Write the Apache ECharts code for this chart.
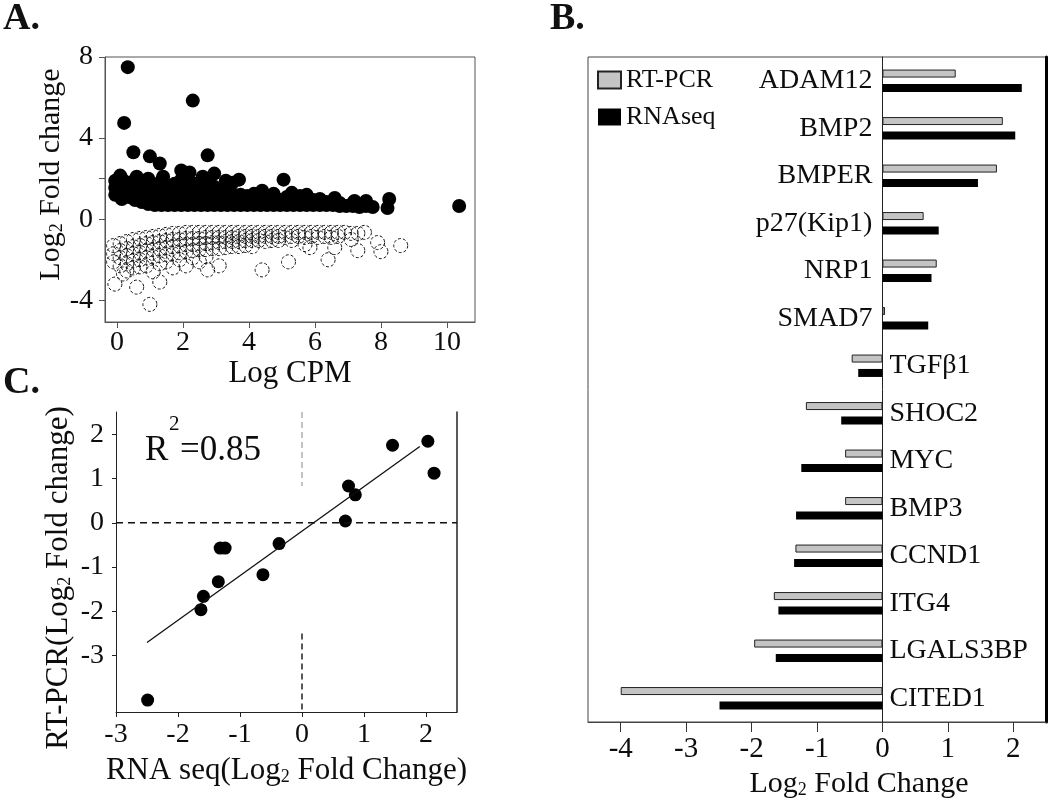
<!DOCTYPE html>
<html><head><meta charset="utf-8">
<script src="https://cdn.jsdelivr.net/npm/echarts@6/dist/echarts.min.js"></script>
<style>html,body{margin:0;padding:0;background:#fff}#c{width:1050px;height:800px}</style>
</head><body><div id="c"></div>
<script>
// ---------- Panel B / C data ----------
const genes = ['ADAM12','BMP2','BMPER','p27(Kip1)','NRP1','SMAD7','TGFβ1','SHOC2','MYC','BMP3','CCND1','ITG4','LGALS3BP','CITED1'];
const rtpcr  = [1.12, 1.84, 1.75, 0.63, 0.83, 0.04, -0.47, -1.17, -0.57, -0.57, -1.33, -1.66, -1.96, -4.00];
const rnaseq = [2.13, 2.03, 1.46, 0.86, 0.75, 0.70, -0.37, -0.63, -1.24, -1.32, -1.35, -1.59, -1.63, -2.49];

// ---------- Panel A data (logCPM, log2FC) ----------
const upPoints = [
 [-0.05,1.2],[-0.05,1.55],[-0.05,1.9],
 [0.15,1.0],[0.15,1.35],[0.15,1.7],[0.15,2.0],
 [0.35,1.1],[0.35,1.45],[0.35,1.8],
 [0.55,0.95],[0.55,1.3],[0.55,1.65],[0.55,1.95],
 [0.75,0.85],[0.75,1.15],[0.75,1.5],[0.75,1.85],
 [0.95,0.75],[0.95,1.05],[0.95,1.4],[0.95,1.75],[0.95,2.0],
 [1.15,0.7],[1.15,1.0],[1.15,1.35],[1.15,1.7],
 [1.35,0.7],[1.35,1.0],[1.35,1.3],[1.35,1.6],[1.35,1.9],
 [1.55,0.7],[1.55,1.0],[1.55,1.3],[1.55,1.65],
 [1.75,0.7],[1.75,1.05],[1.75,1.4],[1.75,1.75],
 [1.95,0.7],[1.95,1.0],[1.95,1.3],[1.95,1.6],[1.95,1.95],
 [2.15,0.7],[2.15,1.0],[2.15,1.35],[2.15,1.7],
 [2.35,0.7],[2.35,1.05],[2.35,1.4],[2.35,1.75],
 [2.55,0.7],[2.55,1.0],[2.55,1.3],[2.55,1.6],
 [2.75,0.7],[2.75,1.0],[2.75,1.35],[2.75,1.7],
 [2.95,0.7],[2.95,1.0],[2.95,1.3],[2.95,1.6],
 [3.15,0.7],[3.15,1.0],[3.15,1.35],
 [3.35,0.7],[3.35,1.0],[3.35,1.3],
 [3.55,0.7],[3.55,0.95],[3.55,1.2],
 [3.75,0.7],[3.75,0.95],[3.75,1.2],
 [3.95,0.7],[3.95,0.95],[3.95,1.15],
 [4.15,0.7],[4.15,0.95],[4.15,1.25],
 [4.35,0.7],[4.35,0.95],
 [4.55,0.7],[4.55,0.95],[4.55,1.15],
 [4.75,0.7],[4.75,0.95],[4.75,1.25],
 [4.95,0.7],[4.95,0.95],
 [5.15,0.7],[5.15,0.95],[5.15,1.1],
 [5.35,0.7],[5.35,0.95],
 [5.55,0.7],[5.55,0.95],[5.55,1.15],
 [5.75,0.7],[5.75,0.95],[5.75,1.2],
 [5.95,0.7],[5.95,0.95],
 [6.15,0.7],[6.15,0.9],[6.15,1.0],
 [6.35,0.7],[6.35,0.85],
 [6.55,0.7],[6.55,0.85],
 [6.75,0.65],[6.75,0.8],
 [6.95,0.65],
 [7.15,0.65],[7.15,0.8],
 [7.35,0.6],
 [7.55,0.65],[7.55,0.9],
 [7.75,0.6],
 [8.2,0.55],[8.25,1.0],
 [0.33,7.5],[2.3,5.85],[0.22,4.75],[0.5,3.3],[1.0,3.1],[1.3,2.75],[2.75,3.15],[1.95,2.4],[2.2,2.3],[2.95,2.25],
 [3.5,1.8],[3.7,1.95],[5.05,1.95],[10.37,0.65],[0.1,2.15],[0.6,2.1],[1.4,2.1],[2.6,2.1],[3.3,1.9],[4.4,1.4],
 [5.3,1.3],[6.6,1.05],[7.2,0.9]
];
const downPoints = [
 [-0.1,-1.3],[-0.1,-1.7],[-0.1,-2.1],
 [0.1,-1.2],[0.1,-1.55],[0.1,-1.9],[0.1,-2.3],
 [0.3,-1.1],[0.3,-1.45],[0.3,-1.8],[0.3,-2.2],[0.3,-2.55],
 [0.5,-1.0],[0.5,-1.35],[0.5,-1.7],[0.5,-2.05],[0.5,-2.4],
 [0.7,-0.95],[0.7,-1.3],[0.7,-1.65],[0.7,-2.0],[0.7,-2.35],
 [0.9,-0.9],[0.9,-1.2],[0.9,-1.55],[0.9,-1.9],[0.9,-2.3],
 [1.1,-0.85],[1.1,-1.15],[1.1,-1.5],[1.1,-1.85],[1.1,-2.6],
 [1.3,-0.8],[1.3,-1.1],[1.3,-1.45],[1.3,-1.8],[1.3,-2.2],
 [1.5,-0.75],[1.5,-1.05],[1.5,-1.4],[1.5,-1.75],[1.5,-2.1],
 [1.7,-0.7],[1.7,-1.0],[1.7,-1.35],[1.7,-1.7],[1.7,-2.4],
 [1.9,-0.7],[1.9,-1.0],[1.9,-1.3],[1.9,-1.65],[1.9,-2.0],
 [2.1,-0.65],[2.1,-0.95],[2.1,-1.25],[2.1,-1.6],[2.1,-2.3],
 [2.3,-0.65],[2.3,-0.95],[2.3,-1.25],[2.3,-1.55],[2.3,-1.9],
 [2.5,-0.65],[2.5,-0.95],[2.5,-1.2],[2.5,-1.5],[2.5,-2.1],
 [2.7,-0.65],[2.7,-0.9],[2.7,-1.2],[2.7,-1.5],[2.7,-1.85],
 [2.9,-0.65],[2.9,-0.9],[2.9,-1.15],[2.9,-1.45],
 [3.1,-0.65],[3.1,-0.9],[3.1,-1.15],[3.1,-1.45],[3.1,-2.3],
 [3.3,-0.65],[3.3,-0.9],[3.3,-1.1],[3.3,-1.4],
 [3.5,-0.65],[3.5,-0.9],[3.5,-1.1],[3.5,-1.35],
 [3.7,-0.65],[3.7,-0.85],[3.7,-1.1],[3.7,-1.35],
 [3.9,-0.65],[3.9,-0.85],[3.9,-1.05],[3.9,-1.3],
 [4.1,-0.65],[4.1,-0.85],[4.1,-1.05],[4.1,-1.35],
 [4.3,-0.65],[4.3,-0.85],[4.3,-1.05],
 [4.5,-0.65],[4.5,-0.85],[4.5,-1.1],
 [4.7,-0.65],[4.7,-0.85],[4.7,-1.05],
 [4.9,-0.65],[4.9,-0.85],[4.9,-1.05],
 [5.1,-0.65],[5.1,-0.9],
 [5.3,-0.65],[5.3,-0.85],[5.3,-1.05],
 [5.5,-0.65],[5.5,-0.85],
 [5.7,-0.65],[5.7,-0.9],[5.7,-1.25],
 [5.9,-0.65],[5.9,-0.85],
 [6.1,-0.65],[6.1,-0.9],
 [6.3,-0.65],[6.3,-0.85],
 [6.5,-0.65],[6.5,-0.9],
 [6.7,-0.65],[6.7,-0.85],
 [6.9,-0.65],
 [7.1,-0.7],[7.1,-1.0],
 [7.5,-0.65],[7.9,-1.15],
 [-0.06,-3.2],[0.6,-3.35],[1.0,-4.2],[1.3,-3.1],[0.2,-2.7],[2.75,-2.5],[4.4,-2.5],[5.2,-2.1],[6.4,-2.0],
 [7.3,-1.55],[8.0,-1.6],[8.6,-1.3],[6.6,-1.4],[5.85,-1.4],[7.3,-0.7]
];

// ---------- Panel C reference lines ----------
const fitLine    = [[-2.5,-2.7],[1.9,1.72]];
const zeroH      = [[-3,0],[2.5,0]];
const zeroVUpper = [[0,2.5],[0,0.83]];
const zeroVLower = [[0,-2.5],[0,-4.27]];

// ---------- Tick values ----------
const ticksAx = [0,2,4,6,8,10];
const labelsAy = [-4,0,4,8];
const ticksAy = [-4,0,2,4,8];
const ticksBx = [-4,-3,-2,-1,0,1,2];
const ticksCx = [-3,-2,-1,0,1,2];
const ticksCy = [-3,-2,-1,0,1,2];

const FF = '"Liberation Serif", "Times New Roman", serif';
const TXT = '#0d0d0d';
const subRich = { sub: { fontSize: 18, fontFamily: FF, color: TXT, verticalAlign: 'bottom', lineHeight: 14 } };

const chart = echarts.init(document.getElementById('c'), null, {renderer: 'canvas'});
const option = {
  backgroundColor: '#fff',
  animation: false,
  textStyle: { fontFamily: FF, color: TXT },
  grid: [
    { left: 105, top: 57, width: 370, height: 265, show: true, borderColor: '#555', borderWidth: 1, containLabel: false, outerBoundsMode: 'none' },
    { left: 588, top: 57, width: 458, height: 665, show: true, borderColor: '#444', borderWidth: 1, containLabel: false, outerBoundsMode: 'none' },
    { left: 116, top: 412, width: 341, height: 300, containLabel: false, outerBoundsMode: 'none' }
  ],
  legend: {
    data: ['RT-PCR', 'RNAseq'], orient: 'vertical', left: 597, top: 67, padding: 0,
    itemWidth: 23, itemHeight: 17, itemGap: 11, icon: 'rect',
    textStyle: { fontSize: 26, fontFamily: FF, color: TXT }
  },
  xAxis: [
    { gridIndex: 0, type: 'value', min: -0.36, max: 10.85,
      axisLine: { onZero: false, lineStyle: { color: '#555' } },
      axisTick: { customValues: ticksAx, length: 6, lineStyle: { color: '#555' } },
      axisLabel: { customValues: ticksAx, fontSize: 28, margin: 7, color: TXT, fontFamily: FF },
      splitLine: { show: false },
      name: 'Log CPM', nameLocation: 'middle', nameGap: 26,
      nameTextStyle: { fontSize: 31, fontFamily: FF, color: TXT } },
    { gridIndex: 1, type: 'value', min: -4.5, max: 2.5,
      axisLine: { onZero: false, lineStyle: { color: '#444' } },
      axisTick: { customValues: ticksBx, length: 10, lineStyle: { color: '#333' } },
      axisLabel: { customValues: ticksBx, fontSize: 29, margin: 13, color: TXT, fontFamily: FF },
      splitLine: { show: false },
      name: 'Log{sub|2} Fold Change', nameLocation: 'middle', nameGap: 45,
      nameTextStyle: { fontSize: 30, fontFamily: FF, color: TXT, padding: [0, 0, 0, 84], rich: subRich } },
    { gridIndex: 2, type: 'value', min: -3, max: 2.5,
      axisLine: { onZero: false, lineStyle: { color: '#222' } },
      axisTick: { customValues: ticksCx, length: 5, lineStyle: { color: '#222' } },
      axisLabel: { customValues: ticksCx, fontSize: 28, margin: 9, color: TXT, fontFamily: FF },
      splitLine: { show: false },
      name: 'RNA seq(Log{sub|2} Fold Change)', nameLocation: 'middle', nameGap: 43,
      nameTextStyle: { fontSize: 31, fontFamily: FF, color: TXT, rich: subRich } }
  ],
  yAxis: [
    { gridIndex: 0, type: 'value', min: -5.07, max: 8,
      axisLine: { onZero: false, lineStyle: { color: '#555' } },
      axisTick: { customValues: ticksAy, length: 6, lineStyle: { color: '#555' } },
      axisLabel: { customValues: labelsAy, fontSize: 28, margin: 12, color: TXT, fontFamily: FF },
      splitLine: { show: false },
      name: 'Log{sub|2} Fold change', nameLocation: 'middle', nameGap: 33,
      nameTextStyle: { fontSize: 30, fontFamily: FF, color: TXT, padding: [0, 0, 0, 30], rich: subRich } },
    { gridIndex: 1, type: 'category', data: genes, inverse: true,
      axisLine: { onZero: true, lineStyle: { color: '#222', width: 1 } },
      axisTick: { show: false }, axisLabel: { show: false }, splitLine: { show: false } },
    { gridIndex: 1, type: 'value', position: 'right', min: 0, max: 1,
      axisLine: { show: true, onZero: false, lineStyle: { color: '#000', width: 3 } },
      axisTick: { show: false }, axisLabel: { show: false }, splitLine: { show: false } },
    { gridIndex: 2, type: 'value', min: -4.27, max: 2.5,
      axisLine: { onZero: false, lineStyle: { color: '#222' } },
      axisTick: { customValues: ticksCy, length: 4, lineStyle: { color: '#222' } },
      axisLabel: { customValues: ticksCy, fontSize: 28, margin: 12, color: TXT, fontFamily: FF },
      splitLine: { show: false },
      name: 'RT-PCR(Log{sub|2} Fold change)', nameLocation: 'middle', nameGap: 42,
      nameTextStyle: { fontSize: 31, fontFamily: FF, color: TXT, padding: [0, 32, 0, 0], rich: subRich } },
    { gridIndex: 2, type: 'value', position: 'right', min: 0, max: 1,
      axisLine: { show: true, onZero: false, lineStyle: { color: '#222', width: 1.5 } },
      axisTick: { show: false }, axisLabel: { show: false }, splitLine: { show: false } }
  ],
  series: [
    { type: 'scatter', xAxisIndex: 0, yAxisIndex: 0, data: downPoints, symbolSize: 14, silent: true,
      itemStyle: { color: 'rgba(255,255,255,0)', opacity: 1, borderColor: '#111', borderWidth: 1, borderType: [3, 2] } },
    { type: 'scatter', xAxisIndex: 0, yAxisIndex: 0, data: upPoints, symbolSize: 14, silent: true,
      itemStyle: { color: '#000', opacity: 1 } },
    { name: 'RT-PCR', type: 'bar', xAxisIndex: 1, yAxisIndex: 1, data: rtpcr, barWidth: 8, barGap: '80%',
      itemStyle: { color: '#c4c4c4', borderColor: '#222', borderWidth: 1 } },
    { name: 'RNAseq', type: 'bar', xAxisIndex: 1, yAxisIndex: 1, data: rnaseq, barWidth: 8,
      itemStyle: { color: '#000' } },
    { type: 'scatter', xAxisIndex: 1, yAxisIndex: 1, symbolSize: 0, silent: true,
      itemStyle: { color: 'rgba(0,0,0,0)', opacity: 1 },
      data: genes.map((g, i) => ({ value: [0, g], label: { position: rnaseq[i] > 0 ? 'left' : 'right', distance: rnaseq[i] > 0 ? 10 : 7 } })),
      label: { show: true, formatter: p => genes[p.dataIndex], fontSize: 28, fontFamily: FF, color: TXT } },
    { type: 'line', xAxisIndex: 2, yAxisIndex: 3, data: zeroH, symbol: 'none', silent: true,
      lineStyle: { color: '#111', width: 1.4, type: [7, 5] } },
    { type: 'line', xAxisIndex: 2, yAxisIndex: 3, data: zeroVUpper, symbol: 'none', silent: true,
      lineStyle: { color: '#888', width: 1, type: [6, 4] } },
    { type: 'line', xAxisIndex: 2, yAxisIndex: 3, data: zeroVLower, symbol: 'none', silent: true,
      lineStyle: { color: '#111', width: 1.4, type: [6, 4] } },
    { type: 'line', xAxisIndex: 2, yAxisIndex: 3, data: fitLine, symbol: 'none', silent: true,
      lineStyle: { color: '#111', width: 1.3 } },
    { type: 'scatter', xAxisIndex: 2, yAxisIndex: 3, symbolSize: 13, silent: true,
      data: genes.map((g, i) => [rnaseq[i], rtpcr[i]]), itemStyle: { color: '#000', opacity: 1 } }
  ],
  graphic: [
    { type: 'text', left: 3, top: 0, style: { text: 'A.', font: 'bold 38px ' + FF, fill: '#111' } },
    { type: 'text', left: 550, top: 0, style: { text: 'B.', font: 'bold 38px ' + FF, fill: '#111' } },
    { type: 'text', left: 3, top: 364, style: { text: 'C.', font: 'bold 38px ' + FF, fill: '#111' } },
    { type: 'text', left: 145, top: 433, style: { text: 'R', font: '35px ' + FF, fill: TXT } },
    { type: 'text', left: 169, top: 414, style: { text: '2', font: '21px ' + FF, fill: TXT } },
    { type: 'text', left: 180, top: 433, style: { text: '=0.85', font: '35px ' + FF, fill: TXT } }
  ]
};
chart.setOption(option);
</script>
</body></html>
